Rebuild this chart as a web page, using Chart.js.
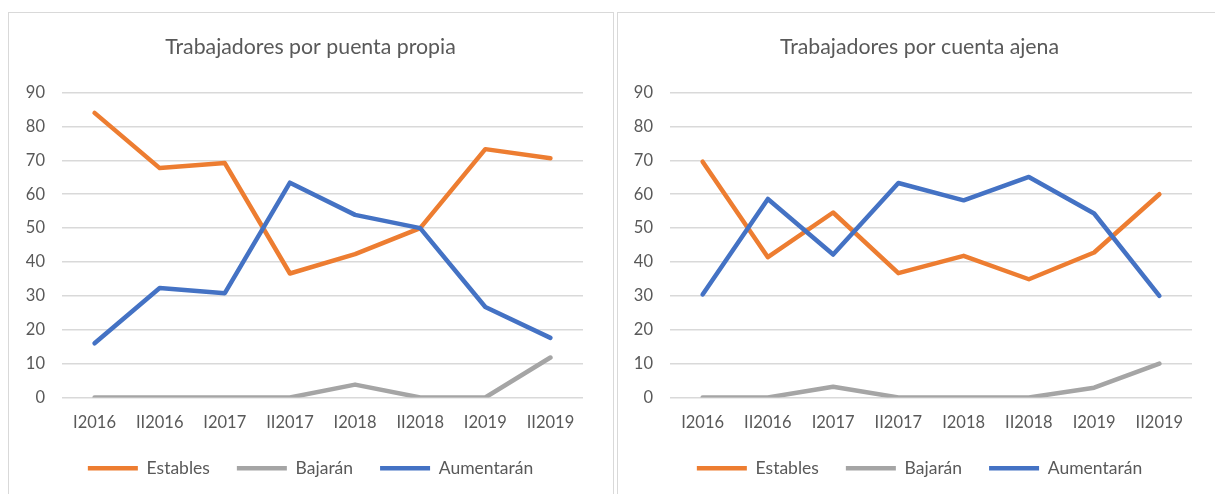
<!DOCTYPE html>
<html><head><meta charset="utf-8">
<script src="https://cdn.jsdelivr.net/npm/chart.js@4/dist/chart.umd.min.js"></script>
<style>
html,body{margin:0;padding:0;background:#fff;width:1215px;height:494px;overflow:hidden;}
.panel{position:absolute;border:1px solid #d9d9d9;box-sizing:border-box;}
#p1{left:8px;top:12px;width:606px;height:520px;}
#p2{left:617px;top:12px;width:620px;height:520px;}
.wrap{position:absolute;}
#w1{left:9px;top:13px;width:603px;height:481px;}
#w2{left:618px;top:13px;width:603px;height:481px;}
</style></head>
<body>
<div class="panel" id="p1"></div>
<div class="panel" id="p2"></div>
<div class="wrap" id="w1"><canvas id="c1" width="603" height="481"></canvas></div>
<div class="wrap" id="w2"><canvas id="c2" width="603" height="481"></canvas></div>
<script>
const categories = ['I2016','II2016','I2017','II2017','I2018','II2018','I2019','II2019'];
const seriesNames = ['Estables','Bajarán','Aumentarán'];
const yTicks = [0,10,20,30,40,50,60,70,80,90];

const propiaEstables   = [84, 67.7, 69.2, 36.6, 42.3, 50, 73.3, 70.6];
const propiaBajaran    = [0, 0, 0, 0, 3.8, 0, 0, 11.8];
const propiaAumentaran = [16, 32.3, 30.8, 63.4, 53.9, 50, 26.7, 17.6];

const ajenaEstables    = [69.6, 41.4, 54.6, 36.7, 41.8, 34.9, 42.8, 60];
const ajenaBajaran     = [0, 0, 3.2, 0, 0, 0, 2.9, 10];
const ajenaAumentaran  = [30.4, 58.6, 42.2, 63.3, 58.2, 65.1, 54.3, 30];

const colors = ['#ED7D31', '#A5A5A5', '#4472C4'];
const FONT = 'Lato';
const TXT = '#595959';

function makeChart(id, title, est, baj, aum, yWidth, rightWidth) {
  const vals = [est, baj, aum];
  const order = [2, 1, 0];
  new Chart(document.getElementById(id), {
    type: 'line',
    data: {
      labels: categories,
      datasets: seriesNames.map((n, i) => ({
        label: n,
        data: vals[i],
        borderColor: colors[i],
        backgroundColor: colors[i],
        borderWidth: 4.5,
        borderCapStyle: 'round',
        borderJoinStyle: 'round',
        pointRadius: 0,
        pointHoverRadius: 0,
        tension: 0,
        fill: false,
        order: order[i]
      }))
    },
    options: {
      responsive: false,
      animation: false,
      events: [],
      layout: { padding: { top: 21, right: 0, bottom: 7, left: 0 } },
      plugins: {
        title: {
          display: true, text: title, color: TXT,
          font: { family: FONT, size: 21.3, weight: 'normal' },
          padding: { top: 0, bottom: 33 }
        },
        legend: {
          position: 'bottom',
          labels: {
            usePointStyle: true, pointStyle: 'line', pointStyleWidth: 50,
            boxHeight: 16,
            color: TXT, padding: 27,
            font: { family: FONT, size: 17.5 },
            sort: (a, b) => a.datasetIndex - b.datasetIndex
          }
        },
        tooltip: { enabled: false }
      },
      scales: {
        x: {
          offset: true,
          grid: { display: false, drawTicks: false },
          border: { display: false },
          ticks: { color: TXT, font: { family: FONT, size: 16.5 }, padding: 15, maxRotation: 0, autoSkip: false },
          afterFit: s => { s.height = 35; }
        },
        y: {
          min: 0, max: 90,
          afterBuildTicks: s => { s.ticks = yTicks.map(v => ({ value: v })); },
          grid: { color: '#D9D9D9', lineWidth: 1.5, drawTicks: false },
          border: { display: false },
          ticks: { color: TXT, font: { family: FONT, size: 16.5 }, padding: 17 },
          afterFit: s => { s.width = yWidth; }
        },
        yr: {
          position: 'right',
          display: true,
          grid: { display: false, drawTicks: false },
          border: { display: false },
          ticks: { display: false },
          afterFit: s => { s.width = rightWidth; }
        }
      }
    }
  });
}

makeChart('c1', 'Trabajadores por puenta propia', propiaEstables, propiaBajaran, propiaAumentaran, 53, 29);
makeChart('c2', 'Trabajadores por cuenta ajena', ajenaEstables, ajenaBajaran, ajenaAumentaran, 52, 29);
</script>
</body></html>
